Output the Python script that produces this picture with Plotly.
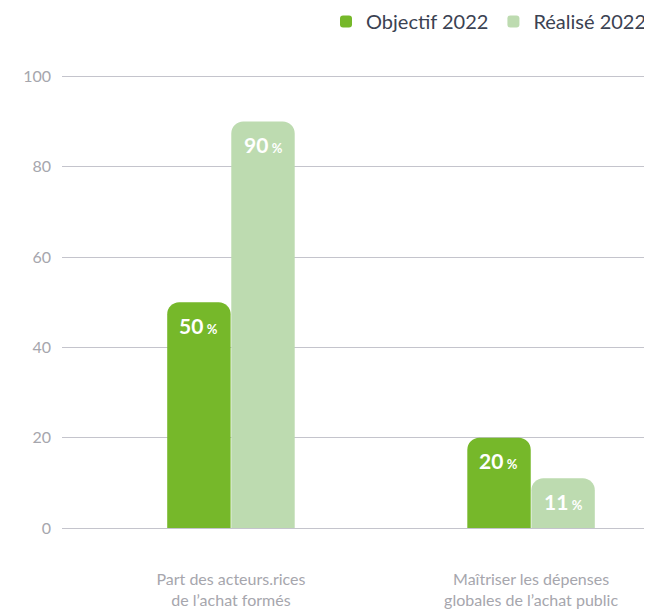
import plotly.graph_objects as go

categories = ["Part des acteurs.rices<br>de l’achat formés", "Maîtriser les dépenses<br>globales de l’achat public"]
objectif = [50, 20]
realise = [90, 11]
series_names = ["Objectif 2022", "Réalisé 2022"]
y_ticks = [0, 20, 40, 60, 80, 100]

colors = ["#76b82a", "#bddbb0"]
offsets = [-0.107, 0.107]

fig = go.Figure()
for name, vals, c in zip(series_names, [objectif, realise], colors):
    fig.add_trace(go.Bar(
        x=[0, 1], y=vals, name=name, marker=dict(color=c, line=dict(width=0)),
        hoverinfo="skip",
    ))

for vals, off in zip([objectif, realise], offsets):
    for i, v in enumerate(vals):
        fig.add_annotation(
            x=i + off, y=v, yshift=-23, yanchor="middle", xanchor="center",
            text=f"<b>{v}</b><span style='font-size:13px'> <b>%</b></span>",
            showarrow=False, font=dict(color="white", size=21, family="Lato"),
        )

fig.update_layout(
    width=644, height=602,
    margin=dict(l=54, r=0, t=67, b=82, autoexpand=False),
    paper_bgcolor="white", plot_bgcolor="white",
    barmode="group", bargap=0.573, bargroupgap=0.01,
    barcornerradius=12,
    font=dict(family="Lato", color="#a6a6ad", size=14),
    legend=dict(orientation="h", x=1.0, xanchor="right", y=1.118, yanchor="middle",
                font=dict(size=20, color="#3b4252", family="Lato"),
                traceorder="normal"),
    showlegend=True,
)
fig.update_xaxes(
    range=[-0.563, 1.403], tickvals=[0, 1], ticktext=categories,
    showgrid=False, zeroline=False, showline=False, ticks="",
    ticklabelstandoff=40, tickfont=dict(size=16, color="#a6a6ad"), automargin=False,
)
fig.update_yaxes(
    range=[0, 100.3], tickvals=y_ticks, showgrid=True, gridcolor="#c4c4cc", gridwidth=1,
    zeroline=True, zerolinecolor="#c4c4cc", zerolinewidth=1,
    showline=False, ticks="", ticklabelstandoff=10, automargin=False,
    tickfont=dict(size=16, color="#a6a6ad"),
)
fig.write_html("out.html")
